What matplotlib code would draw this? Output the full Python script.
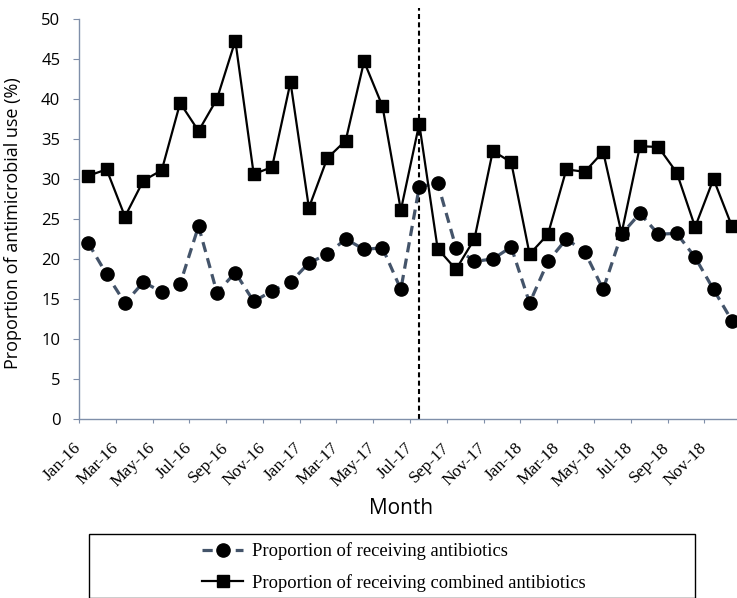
import matplotlib
matplotlib.use("Agg")
import matplotlib.pyplot as plt
import matplotlib.transforms as mtransforms
from matplotlib.patches import Rectangle
import numpy as np

# monthly values, Jan-16 .. Dec-18
months = ["Jan-16", "Feb-16", "Mar-16", "Apr-16", "May-16", "Jun-16",
          "Jul-16", "Aug-16", "Sep-16", "Oct-16", "Nov-16", "Dec-16",
          "Jan-17", "Feb-17", "Mar-17", "Apr-17", "May-17", "Jun-17",
          "Jul-17", "Aug-17", "Sep-17", "Oct-17", "Nov-17", "Dec-17",
          "Jan-18", "Feb-18", "Mar-18", "Apr-18", "May-18", "Jun-18",
          "Jul-18", "Aug-18", "Sep-18", "Oct-18", "Nov-18", "Dec-18"]
antibiotics = [22.0, 18.1, 14.5, 17.1, 15.9, 16.9, 24.1, 15.8, 18.3, 14.7, 16.0, 17.1,
               19.5, 20.6, 22.5, 21.2, 21.4, 16.2, 29.0, 29.5, 21.4, 19.7, 20.0, 21.5,
               14.5, 19.7, 22.5, 20.9, 16.2, 23.1, 25.7, 23.1, 23.2, 20.2, 16.2, 12.3]
combined = [30.4, 31.2, 25.3, 29.8, 31.1, 39.5, 36.0, 40.0, 47.3, 30.6, 31.5, 42.1,
            26.4, 32.6, 34.8, 44.7, 39.1, 26.1, 36.9, 21.3, 18.7, 22.5, 33.5, 32.1,
            20.6, 23.1, 31.2, 30.9, 33.4, 23.2, 34.1, 34.0, 30.8, 24.0, 30.0, 24.1]
intervention = "Jul-17"

sans = ["Open Sans", "DejaVu Sans"]
serif = ["Liberation Serif", "DejaVu Serif"]
axis_col = "#7F8FA9"

W, H = 737, 598
fig = plt.figure(figsize=(W / 100, H / 100), dpi=100)
ax = fig.add_axes([79 / W, (H - 419) / H, 1 - 79 / W, 400 / H])

x = np.arange(len(months))
ax.plot(x, antibiotics, color="#44546A", lw=2.3, linestyle=(0, (3.2, 2.0)),
        marker="o", markersize=9.5, markerfacecolor="black", markeredgecolor="black",
        label="Proportion of receiving antibiotics", zorder=3)
ax.plot(x, combined, color="black", lw=1.6, marker="s", markersize=8,
        label="Proportion of receiving combined antibiotics", zorder=4)

vx = months.index(intervention)
ax.axvline(vx, ymin=0, ymax=(419 - 8) / 400, color="black", lw=1.5,
           linestyle=(0, (2.4, 1.6)), clip_on=False, zorder=2)

ax.set_xlim(-0.5, -0.5 + (W - 78.7) / 18.4)
ax.set_ylim(0, 50)
ax.set_yticks(np.arange(0, 51, 5))
ax.set_xticks(x[::2] - 0.5)
ax.set_xticklabels(months[::2], fontfamily=serif, fontsize=12.5,
                   rotation=45, ha="right", va="center", rotation_mode="anchor")
offset = mtransforms.ScaledTranslation(20 / 100, 0, fig.dpi_scale_trans)
for lab in ax.get_xticklabels():
    lab.set_transform(lab.get_transform() + offset)

for s in ["top", "right"]:
    ax.spines[s].set_visible(False)
for s in ["left", "bottom"]:
    ax.spines[s].set_color(axis_col)
    ax.spines[s].set_linewidth(1.0)
ax.tick_params(axis="x", direction="out", length=3, color=axis_col, pad=16)
ax.tick_params(axis="y", direction="out", length=4.5, color=axis_col, pad=9)
for lab in ax.get_yticklabels():
    lab.set_fontfamily(sans)
    lab.set_fontsize(12)

ax.set_ylabel("Proportion of antimicrobial use (%)", fontfamily=sans, fontsize=13)
ax.yaxis.set_label_coords(-0.087, 0.49)

fig.text(401 / W, 1 - 509 / H, "Month", fontfamily=sans, fontsize=15,
         ha="center", va="center")

# legend box (runs off the bottom edge, as in the original)
fig.patches.append(Rectangle((88.7 / W, 0), (695 - 88.7) / W, (H - 534) / H,
                             transform=fig.transFigure, fill=False,
                             edgecolor="black", lw=1.0))
fig.legend(loc="center", bbox_to_anchor=(394 / W, 1 - 567 / H), frameon=False,
           prop={"family": serif, "size": 13.3}, handlelength=2.2,
           handletextpad=0.5, labelspacing=0.75)

fig.savefig("out.png", dpi=100)
